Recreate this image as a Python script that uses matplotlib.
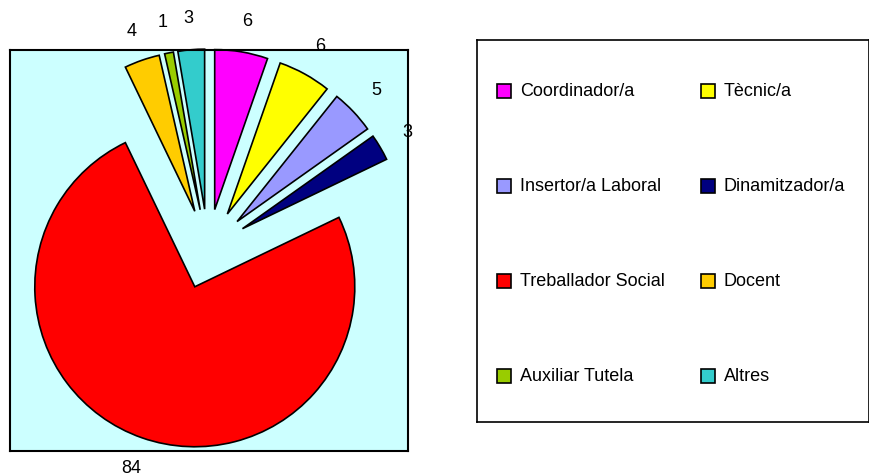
import matplotlib.pyplot as plt
from matplotlib.patches import Rectangle

plt.rcParams['font.family'] = ['Liberation Sans', 'DejaVu Sans']

categories = ["Coordinador/a", "Tècnic/a", "Insertor/a Laboral", "Dinamitzador/a",
              "Treballador Social", "Docent", "Auxiliar Tutela", "Altres"]
values = [6, 6, 5, 3, 84, 4, 1, 3]
colors = ["#FF00FF", "#FFFF00", "#9999FF", "#000080",
          "#FF0000", "#FFCC00", "#99CC00", "#33CCCC"]

fig = plt.figure(figsize=(8.7, 4.77), dpi=100)

# pie area (light cyan box)
ax = fig.add_axes([10 / 870, 25 / 477, 398 / 870, 401 / 477])
wedges, texts = ax.pie(values, labels=[str(v) for v in values], colors=colors,
                       explode=[0.25] * len(values), startangle=90, counterclock=False,
                       labeldistance=1.2, frame=True,
                       wedgeprops=dict(edgecolor="black", linewidth=1.2),
                       textprops=dict(fontsize=13))
for t in texts:
    t.set_ha("center")
    t.set_va("center")
ax.set_facecolor("#CCFFFF")
ax.set_xlim(-1.2375, 1.25)
ax.set_ylim(-1.2625, 1.244)
ax.set_aspect("auto")
ax.set_xticks([])
ax.set_yticks([])
for s in ax.spines.values():
    s.set_linewidth(1.5)
    s.set_color("black")

# legend box, drawn in pixel-like coords
lg = fig.add_axes([477 / 870, 54 / 477, 392 / 870, 382 / 477])
lg.set_xlim(0, 392)
lg.set_ylim(382, 0)
lg.set_xticks([])
lg.set_yticks([])
for s in lg.spines.values():
    s.set_linewidth(1.2)
    s.set_color("black")

for i, (name, col) in enumerate(zip(categories, colors)):
    row, c = divmod(i, 2)
    y = 51 + 95 * row
    x = 20 + 204 * c
    lg.add_patch(Rectangle((x, y - 7), 14, 14, facecolor=col, edgecolor="black", linewidth=1.2))
    lg.text(x + 23, y, name, fontsize=13, va="center", ha="left")

fig.savefig("out.png", dpi=100)
